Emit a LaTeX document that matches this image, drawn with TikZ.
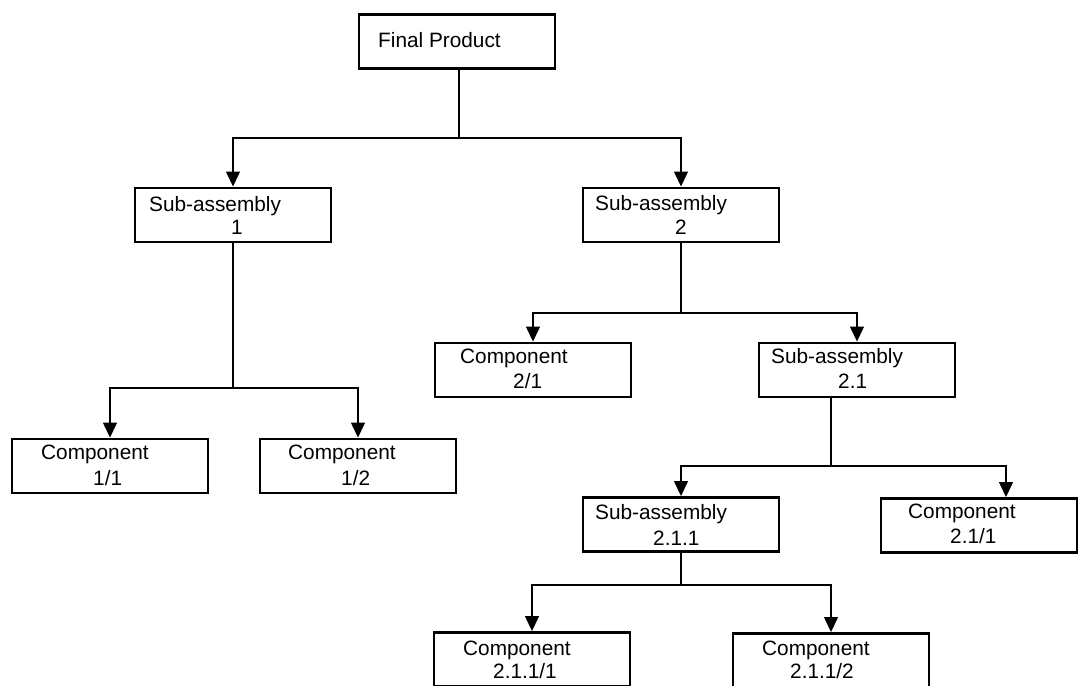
\documentclass[tikz,border=0pt]{standalone}
\usepackage{fontspec}
\setmainfont{Liberation Sans}
\usetikzlibrary{arrows.meta}
\tikzset{
  box/.style={draw=black, line width=2.9pt, minimum width=196pt, minimum height=54pt, inner sep=0pt, fill=white},
  txt/.style={anchor=base west, inner sep=0pt, font=\fontsize{20.8}{24}\selectfont, text=black},
  conn/.style={draw=black, line width=1.3pt},
  arr/.style={conn, -{Triangle[width=14pt,length=15pt]}}
}
\begin{document}
\begin{tikzpicture}[x=1pt,y=-1pt]
\useasboundingbox (0,0) rectangle (1080,686);
\fill[white] (0,0) rectangle (1080,686);
\clip (0,0) rectangle (1080,686);

% boxes
\node[box] (fp)    at (457,41.5) {};
\node[box] (sa1)   at (233,215) {};
\node[box] (sa2)   at (681,215) {};
\node[box] (c21)   at (533,370) {};
\node[box] (sa21)  at (857,370) {};
\node[box] (c11)   at (110,466) {};
\node[box] (c12)   at (358,466) {};
\node[box] (sa211) at (681,524.5) {};
\node[box] (c2_11) at (979,525.5) {};
\node[box] (c2111) at (532,659.5) {};
\node[box] (c2112) at (831,660.5) {};

% texts
\node[txt] (fpa) at (378,47) {Final Product};
\node[txt] (sa1a) at (149,211) {Sub-assembly};
\node[txt] (sa1b) at (231,234) {1};
\node[txt] (sa2a) at (595,210) {Sub-assembly};
\node[txt] (sa2b) at (675,234) {2};
\node[txt] (c21a) at (460,363) {Component};
\node[txt] (c21b) at (513,388) {2/1};
\node[txt] (sa21a) at (771,363) {Sub-assembly};
\node[txt] (sa21b) at (838,388) {2.1};
\node[txt] (c11a) at (41,459) {Component};
\node[txt] (c11b) at (93,485) {1/1};
\node[txt] (c12a) at (288,459) {Component};
\node[txt] (c12b) at (341,485) {1/2};
\node[txt] (sa211a) at (595,519) {Sub-assembly};
\node[txt] (sa211b) at (653,545) {2.1.1};
\node[txt] (c2_11a) at (908,518) {Component};
\node[txt] (c2_11b) at (950,543) {2.1/1};
\node[txt] (c2111a) at (463,655) {Component};
\node[txt] (c2111b) at (493,678) {2.1.1/1};
\node[txt] (c2112a) at (762,655) {Component};
\node[txt] (c2112b) at (790,678) {2.1.1/2};

% junctions
\coordinate (j1) at (459,138);
\coordinate (j2) at (233,388);
\coordinate (j3) at (681,313);
\coordinate (j4) at (831,466);
\coordinate (j5) at (681,585);
\coordinate (a6) at (1006,466);

% connectors
\draw[conn] (fp.south -| j1) -- (j1);
\draw[arr] (j1) -| (sa1.north);
\draw[arr] (j1) -| (sa2.north);

\draw[conn] (sa1.south) -- (j2);
\draw[arr] (j2) -| (c11.north);
\draw[arr] (j2) -| (c12.north);

\draw[conn] (sa2.south) -- (j3);
\draw[arr] (j3) -| (c21.north);
\draw[arr] (j3) -| (sa21.north);

\draw[conn] (sa21.south -| j4) -- (j4);
\draw[arr] (j4) -| (sa211.north);
\draw[arr] (j4) -- (a6) -- (a6 |- c2_11.north);

\draw[conn] (sa211.south) -- (j5);
\draw[arr] (j5) -| (c2111.north);
\draw[arr] (j5) -| (c2112.north);
\end{tikzpicture}
\end{document}
